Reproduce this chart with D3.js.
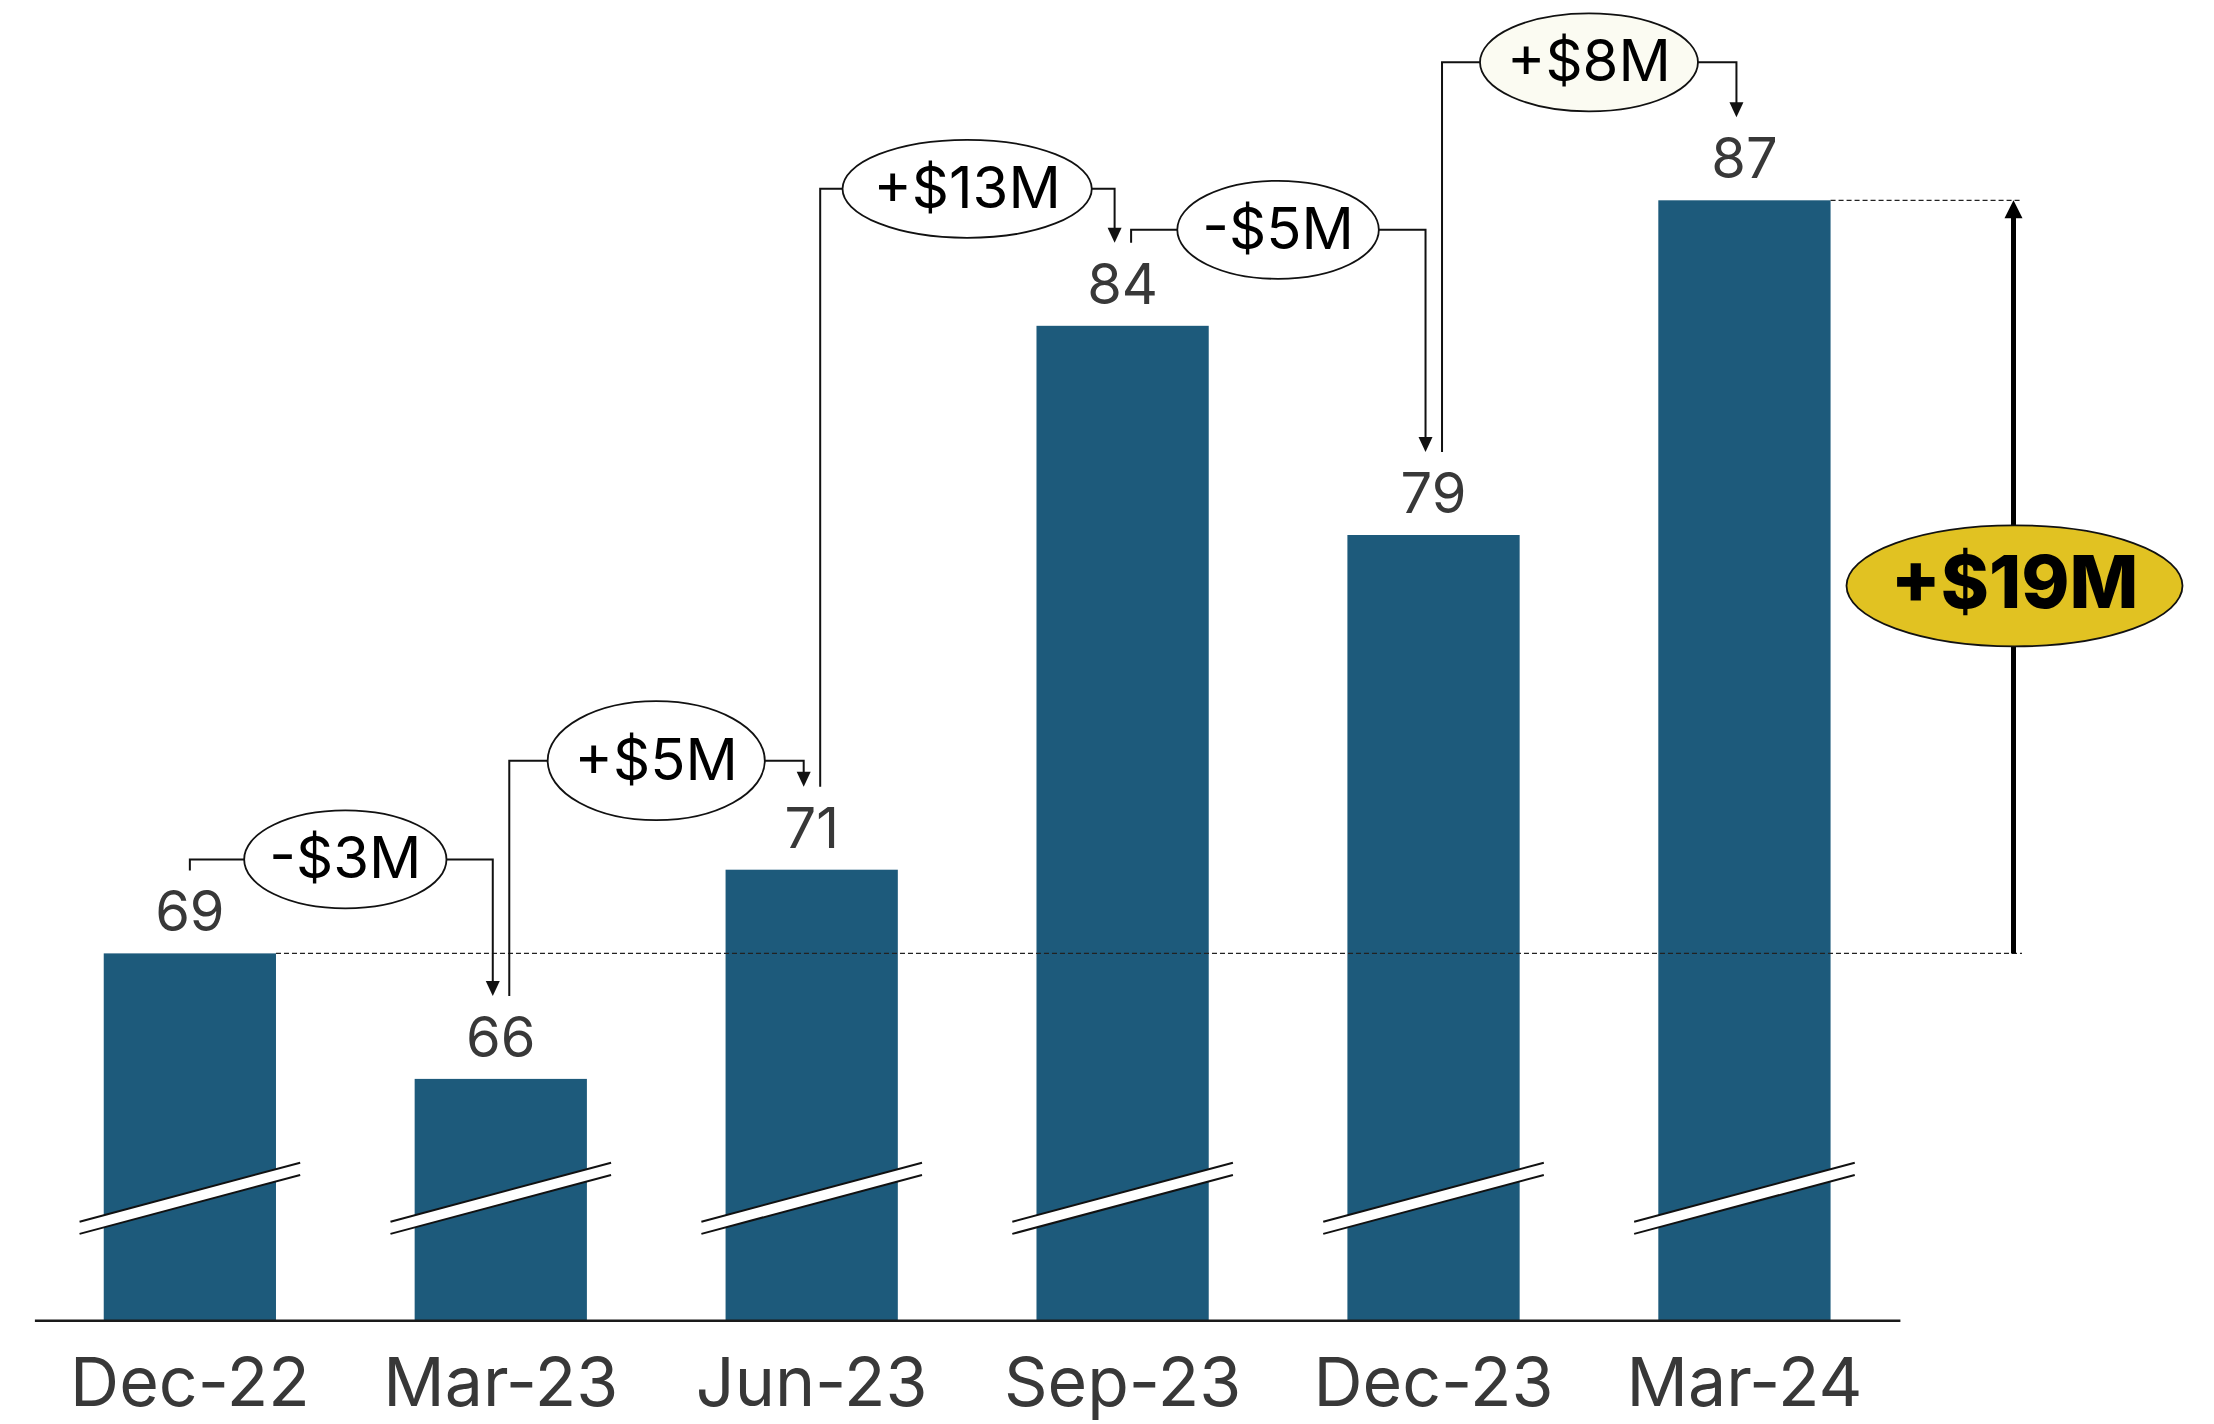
<!DOCTYPE html>
<html>
<head>
<meta charset="utf-8">
<script src="https://cdn.jsdelivr.net/npm/d3@7"></script>
<style>
  html, body { margin: 0; padding: 0; background: #ffffff; }
  svg { display: block; }
</style>
</head>
<body>
<svg id="chart" width="2214" height="1424"></svg>
<script>
// ---- data ----
const categories = ["Dec-22", "Mar-23", "Jun-23", "Sep-23", "Dec-23", "Mar-24"];
const values = [69, 66, 71, 84, 79, 87];
const changeLabels = ["-$3M", "+$5M", "+$13M", "-$5M", "+$8M"];
const totalLabel = "+$19M";

// ---- layout / style (not data) ----
const W = 2214, H = 1424;
const baseY = 1320.3;
const connectorLift = [11, 26, 54, 13, 55];
const bubbleRy = [49, 49, 49, 49, 49];
bubbleRy[1] = 59.5;
const bubbleFill = ["#ffffff", "#ffffff", "#ffffff", "#ffffff", "#fbfbf2"];
const barColor = "#1d5a7b";
const textGray = "#383838";
const fontFam = "Inter, 'Liberation Sans', Arial, sans-serif";
const totalX = 2013.5;
const dashEndX = 2022;

const svg = d3.select("#chart");
svg.append("rect").attr("width", W).attr("height", H).attr("fill", "#fff");

const x = d3.scaleBand()
  .domain(categories)
  .range([34.4, 1899.9])
  .paddingInner(0.446)
  .paddingOuter(0.223);

const y = d3.scaleLinear()
  .domain([60.23, 87])
  .range([baseY, 200.3]);

const cx = c => x(c) + x.bandwidth() / 2;
const data = categories.map((c, i) => ({ c, v: values[i] }));

// bars
svg.append("g").selectAll("rect").data(data).join("rect")
  .attr("x", d => x(d.c))
  .attr("y", d => y(d.v))
  .attr("width", x.bandwidth())
  .attr("height", d => baseY - y(d.v))
  .attr("fill", barColor);

// axis break marks
const slope = -0.2673, half = 110.3, gap = 6.1, breakLift = 122;
const brk = svg.append("g").selectAll("g").data(data).join("g")
  .attr("transform", d => `translate(${cx(d.c)},${baseY - breakLift})`);
brk.append("path")
  .attr("d", `M${-half},${-half * slope - gap} L${half},${half * slope - gap} L${half},${half * slope + gap} L${-half},${-half * slope + gap} Z`)
  .attr("fill", "#fff");
[-gap, gap].forEach(o => {
  brk.append("line")
    .attr("x1", -half).attr("y1", -half * slope + o)
    .attr("x2", half).attr("y2", half * slope + o)
    .attr("stroke", "#111").attr("stroke-width", 2);
});

// dashed reference lines
const first = data[0], last = data[data.length - 1];
svg.append("line")
  .attr("x1", x(first.c) + x.bandwidth()).attr("x2", dashEndX)
  .attr("y1", y(first.v)).attr("y2", y(first.v))
  .attr("stroke", "#222").attr("stroke-width", 1.3).attr("stroke-dasharray", "5,3");
svg.append("line")
  .attr("x1", x(last.c) + x.bandwidth()).attr("x2", dashEndX)
  .attr("y1", y(last.v)).attr("y2", y(last.v))
  .attr("stroke", "#222").attr("stroke-width", 1.3).attr("stroke-dasharray", "5,3");

// value labels
svg.append("g").selectAll("text").data(data).join("text")
  .attr("x", d => cx(d.c))
  .attr("y", d => y(d.v) - 22)
  .attr("text-anchor", "middle")
  .attr("font-family", fontFam)
  .attr("font-size", 56)
  .attr("fill", textGray)
  .text(d => d3.format(".0f")(d.v));

// change connectors
const tipOff = 83, ahW = 7, ahL = 15;
const conn = svg.append("g");
for (let i = 0; i < data.length - 1; i++) {
  const a = data[i], b = data[i + 1];
  const xs = i === 0 ? cx(a.c) : cx(a.c) + 8.5;
  const ys = y(a.v) - tipOff;
  const xe = cx(b.c) - 8;
  const ye = y(b.v) - tipOff;
  const level = Math.min(ys, ye) - connectorLift[i];
  const ex = (cx(a.c) + cx(b.c)) / 2;

  const g = conn.append("g");
  const leftP = g.append("path").attr("fill", "none").attr("stroke", "#111").attr("stroke-width", 2);
  const rightP = g.append("path").attr("fill", "none").attr("stroke", "#111").attr("stroke-width", 2);
  g.append("path")
    .attr("d", `M${xe - ahW},${ye - ahL} L${xe + ahW},${ye - ahL} L${xe},${ye} Z`)
    .attr("fill", "#111");
  const ell = g.append("ellipse")
    .attr("cx", ex).attr("cy", level).attr("ry", bubbleRy[i])
    .attr("fill", bubbleFill[i]).attr("stroke", "#111").attr("stroke-width", 1.8);
  const t = g.append("text")
    .attr("x", ex).attr("y", level + 19)
    .attr("text-anchor", "middle")
    .attr("font-family", fontFam)
    .attr("font-size", 58)
    .attr("fill", "#000")
    .text(changeLabels[i]);
  const rx = t.node().getComputedTextLength() * 0.665;
  ell.attr("rx", rx);
  leftP.attr("d", `M${xs},${ys} V${level} H${ex - rx}`);
  rightP.attr("d", `M${ex + rx},${level} H${xe} V${ye - ahL + 1}`);
}

// total change arrow
const y0 = y(first.v), y1 = y(last.v);
svg.append("line")
  .attr("x1", totalX).attr("x2", totalX)
  .attr("y1", y0).attr("y2", y1 + 16)
  .attr("stroke", "#000").attr("stroke-width", 5);
svg.append("path")
  .attr("d", `M${totalX - 9},${y1 + 18} L${totalX + 9},${y1 + 18} L${totalX},${y1} Z`)
  .attr("fill", "#000");
const midY = (y0 + y1) / 2 + 9;
svg.append("ellipse")
  .attr("cx", totalX + 1).attr("cy", midY).attr("rx", 168).attr("ry", 60.5)
  .attr("fill", "#e1c222").attr("stroke", "#111").attr("stroke-width", 1.8);
svg.append("text")
  .attr("x", totalX + 1).attr("y", midY + 22)
  .attr("text-anchor", "middle")
  .attr("font-family", fontFam)
  .attr("font-weight", 800)
  .attr("font-size", 73)
  .attr("fill", "#000")
  .text(totalLabel);

// x axis
const axis = svg.append("g")
  .attr("transform", `translate(0,${baseY})`)
  .call(d3.axisBottom(x).tickSize(0).tickSizeOuter(0));
axis.select(".domain").attr("stroke", "#1a1a1a").attr("stroke-width", 2.5);
axis.selectAll("text")
  .attr("y", 86).attr("dy", 0)
  .attr("font-family", fontFam)
  .attr("font-size", 68)
  .attr("fill", textGray);
</script>
</body>
</html>
